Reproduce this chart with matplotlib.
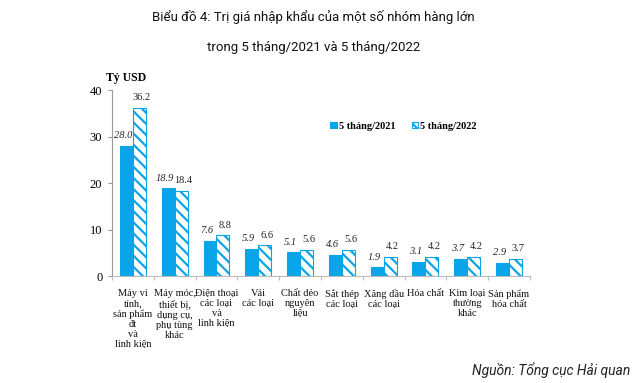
import numpy as np
import matplotlib.pyplot as plt

categories = ["Máy vi\ntính,\nsản phẩm\nđt\nvà\nlinh kiện",
              "Máy móc,\nthiết bị,\ndụng cụ,\nphụ tùng\nkhác",
              "Điện thoại\ncác loại\nvà\nlinh kiện",
              "Vải\ncác loại",
              "Chất dẻo\nnguyên\nliệu",
              "Sắt thép\ncác loại",
              "Xăng dầu\ncác loại",
              "Hóa chất",
              "Kim loại\nthường\nkhác",
              "Sản phẩm\nhóa chất"]
v2021 = [28.0, 18.9, 7.6, 5.9, 5.1, 4.6, 1.9, 3.1, 3.7, 2.9]
v2022 = [36.2, 18.4, 8.8, 6.6, 5.6, 5.6, 4.2, 4.2, 4.2, 3.7]

blue = "#0aa5e8"
serif = "Liberation Serif"
plt.rcParams['hatch.color'] = blue
plt.rcParams['hatch.linewidth'] = 1.6

fig = plt.figure(figsize=(6.4, 3.83), dpi=100)
ax = fig.add_axes([0.175, 0.279, 0.653, 0.486])

x = np.arange(len(categories))
w = 0.31
ax.bar(x - w/2, v2021, w, color=blue, edgecolor=blue, linewidth=0.8, label="5 tháng/2021")
ax.bar(x + w/2, v2022, w, color="white", edgecolor=blue, hatch="\\\\\\", linewidth=0.8, label="5 tháng/2022")

for xi, v in zip(x, v2021):
    ax.text(xi - w/2 - 0.08, v + 1.2, f"{v:.1f}", ha="center", va="bottom", fontsize=7.5,
            style="italic", family=serif, color="#222222")
for xi, v in zip(x, v2022):
    ax.text(xi + w/2 + 0.06, v + 1.2, f"{v:.1f}", ha="center", va="bottom", fontsize=7.5,
            family=serif, color="#222222")

ax.set_xlim(-0.5, len(categories) - 0.5)
ax.set_ylim(0, 40)
ax.set_yticks([0, 10, 20, 30, 40])
ax.set_yticklabels(["0", "10", "20", "30", "40"], family=serif, fontsize=9)
ax.set_xticks(np.arange(len(categories) + 1) - 0.5)
ax.set_xticklabels([])
ax.tick_params(axis="x", length=3, color="#bbbbbb")
ax.tick_params(axis="y", length=3, color="#999999", pad=4)
for s in ["top", "right"]:
    ax.spines[s].set_visible(False)
ax.spines["left"].set_color("#999999")
ax.spines["bottom"].set_color("#bbbbbb")

for xi, c in zip(x, categories):
    ax.text(xi, -2.8, c, ha="center", va="top", fontsize=7.5, family=serif,
            linespacing=1.15, color="#111111")

ax.text(-0.015, 1.03, "Tỷ USD", transform=ax.transAxes, ha="left", va="bottom",
        fontsize=8.5, weight="bold", family=serif)

ax.legend(loc="upper left", bbox_to_anchor=(0.5, 0.88), ncol=2, frameon=False,
          prop={"family": serif, "weight": "bold", "size": 7.5},
          handlelength=0.6, handleheight=0.6, handletextpad=0.2, columnspacing=1.6)

fig.text(0.49, 0.955, "Biểu đồ 4: Trị giá nhập khẩu của một số nhóm hàng lớn",
         ha="center", va="center", fontsize=9.5, family="Roboto", color="#111111")
fig.text(0.49, 0.875, "trong 5 tháng/2021 và 5 tháng/2022",
         ha="center", va="center", fontsize=9.5, family="Roboto", color="#111111")
fig.text(0.985, 0.035, "Nguồn: Tổng cục Hải quan", ha="right", va="center",
         fontsize=10, style="italic", family="Roboto", color="#222222")

fig.savefig("out.png", dpi=100)
